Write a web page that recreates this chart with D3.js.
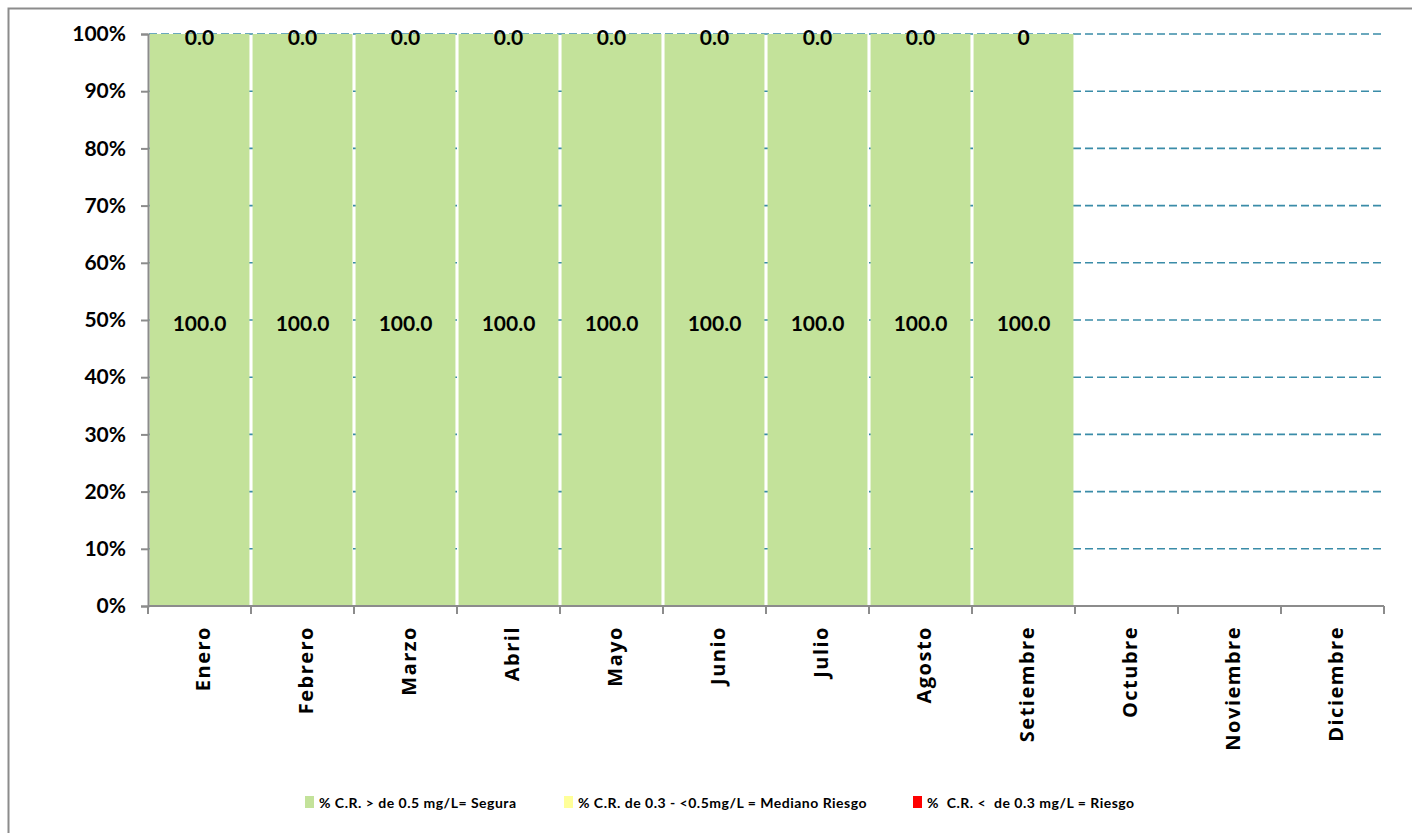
<!DOCTYPE html>
<html>
<head>
<meta charset="utf-8">
<script src="https://cdn.jsdelivr.net/npm/d3@7"></script>
<style>
  html, body { margin: 0; padding: 0; background: #fff; }
  svg { display: block; font-family: Lato, "Open Sans", sans-serif; }
  text { white-space: pre; }
</style>
</head>
<body>
<svg id="chart" width="1412" height="833"></svg>
<script>
// ---- data ----
const months = ["Enero","Febrero","Marzo","Abril","Mayo","Junio","Julio","Agosto","Setiembre","Octubre","Noviembre","Diciembre"];
const segura  = [100,100,100,100,100,100,100,100,100,null,null,null];
const mediano = [0,0,0,0,0,0,0,0,0,null,null,null];
const riesgo  = [0,0,0,0,0,0,0,0,0,null,null,null];
const seguraLabels = ["100.0","100.0","100.0","100.0","100.0","100.0","100.0","100.0","100.0","","",""];
const topLabels = ["0.0","0.0","0.0","0.0","0.0","0.0","0.0","0.0","0","","",""];
const yTicks = [0,10,20,30,40,50,60,70,80,90,100];
const seriesNames = ["% C.R. > de 0.5 mg/L= Segura","% C.R. de 0.3 - <0.5mg/L = Mediano Riesgo","%  C.R. <  de 0.3 mg/L = Riesgo"];
const seriesColors = ["#C3E29A","#FFFF99","#FF0000"];

const svg = d3.select("#chart");

// outer border
svg.append("path")
  .attr("d","M8.5,840 L8.5,8.5 L1420,8.5")
  .attr("fill","none").attr("stroke","#8c8c8c").attr("stroke-width",2);

const x = d3.scaleBand().domain(months).range([148,1384]).paddingInner(0.03).paddingOuter(0.015);
const y = d3.scaleLinear().domain([0,100]).range([606,34]);

// gridlines
svg.append("g").selectAll("line").data(yTicks.filter(d=>d>0)).join("line")
  .attr("x1",149).attr("x2",1384)
  .attr("y1",d=>y(d)).attr("y2",d=>y(d))
  .attr("stroke","#3A8CA8").attr("stroke-width",1.6)
  .attr("stroke-dasharray","8,4");

// stacked bars
const rows = months.map((m,i)=>({month:m, segura:segura[i], mediano:mediano[i], riesgo:riesgo[i]}));
const keys = ["segura","mediano","riesgo"];
const stack = d3.stack().keys(keys).value((d,k)=>d[k]==null?0:d[k]);
const stacked = stack(rows);
stacked.forEach((layer,li)=>{
  svg.append("g").selectAll("rect").data(layer.filter(d=>d.data.segura!=null)).join("rect")
    .attr("x",d=>x(d.data.month))
    .attr("width",x.bandwidth())
    .attr("y",d=>y(d[1]))
    .attr("height",d=>y(d[0])-y(d[1]))
    .attr("fill",seriesColors[li]);
});

// axes
const yAxis = d3.axisLeft(y).tickValues(yTicks).tickFormat(d=>d+"%").tickSize(7);
const gy = svg.append("g").attr("transform","translate(148,0)").call(yAxis)
  .attr("font-family","Lato, 'Open Sans', sans-serif");
gy.select(".domain").attr("stroke","#8c8c8c").attr("stroke-width",2);
gy.selectAll(".tick line").attr("stroke","#8c8c8c").attr("stroke-width",2);
gy.selectAll(".tick text").attr("x",-22).attr("font-size",21).attr("font-weight","bold").attr("fill","#000");

const gx = svg.append("g").attr("transform","translate(0,606)");
gx.append("line").attr("x1",148).attr("x2",1384).attr("y1",0).attr("y2",0)
  .attr("stroke","#8c8c8c").attr("stroke-width",2);
const bounds = months.map(m=>x(m)-x.step()*x.paddingInner()/2).concat([1384]);
gx.selectAll("line.tk").data(bounds).join("line").attr("class","tk")
  .attr("x1",d=>d).attr("x2",d=>d).attr("y1",0).attr("y2",8)
  .attr("stroke","#8c8c8c").attr("stroke-width",2);
gx.selectAll("text").data(months).join("text")
  .attr("transform",d=>`translate(${x(d)+x.bandwidth()/2+10},20) rotate(-90)`)
  .attr("text-anchor","end")
  .attr("font-family","'Open Sans', sans-serif")
  .attr("font-size",20).attr("font-weight","bold").attr("fill","#000")
  .attr("letter-spacing",1.5)
  .text(d=>d);

// data labels
svg.append("g").selectAll("text").data(rows.filter(d=>d.segura!=null)).join("text")
  .attr("x",d=>x(d.month)+x.bandwidth()/2)
  .attr("y",d=>y(d.segura/2)+11)
  .attr("text-anchor","middle").attr("font-size",21).attr("font-weight","bold").attr("fill","#000")
  .text(d=>seguraLabels[months.indexOf(d.month)]);
svg.append("g").selectAll("text").data(rows.filter(d=>d.segura!=null)).join("text")
  .attr("x",d=>x(d.month)+x.bandwidth()/2)
  .attr("y",y(100)+11)
  .attr("text-anchor","middle").attr("font-size",21).attr("font-weight","bold").attr("fill","#000")
  .text(d=>topLabels[months.indexOf(d.month)]);

// legend
const legendX = [305,564,913];
const lg = svg.append("g");
seriesNames.forEach((n,i)=>{
  lg.append("rect").attr("x",legendX[i]).attr("y",796).attr("width",9).attr("height",12).attr("fill",seriesColors[i]);
  lg.append("text").attr("x",legendX[i]+14).attr("y",808)
    .attr("font-size",14).attr("font-weight","bold").attr("fill","#000")
    .attr("letter-spacing",0.5).text(n);
});
</script>
</body>
</html>
